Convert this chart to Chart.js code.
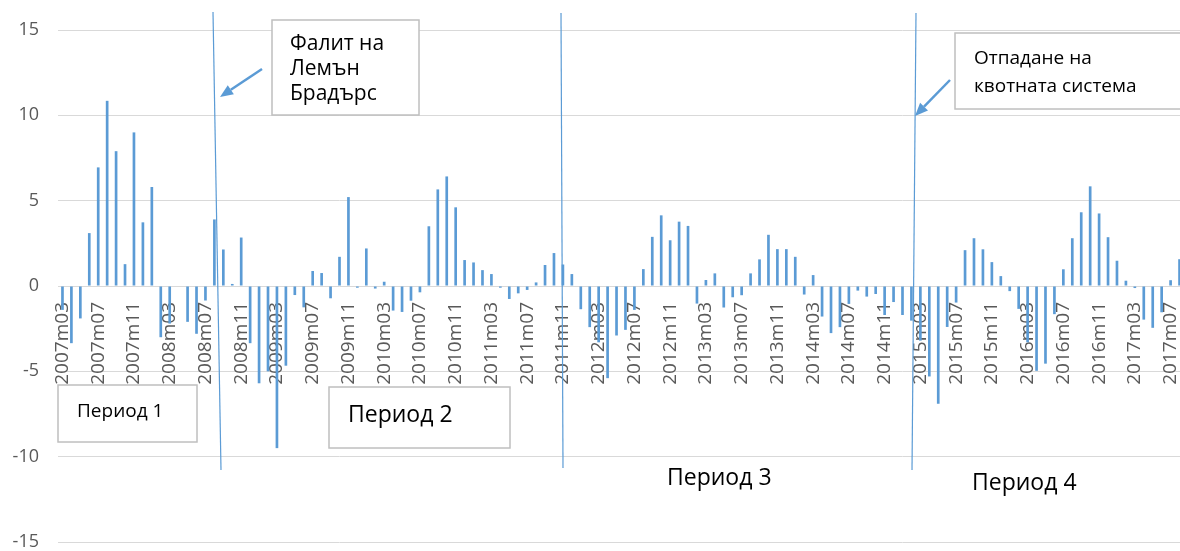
<!DOCTYPE html>
<html>
<head>
<meta charset="utf-8">
<script src="https://cdn.jsdelivr.net/npm/chart.js@4.4.0/dist/chart.umd.min.js"></script>
<style>
  html, body { margin: 0; padding: 0; background: #fff; overflow: hidden; }
  #wrap { width: 1190px; height: 551px; }
</style>
</head>
<body>
<div id="wrap"><canvas id="chart" width="1190" height="551"></canvas></div>
<script>
// monthly categories 2007m03 .. 2017m08
const startYear = 2007, startMonth = 3, monthCount = 126;
const months = [];
for (let i = 0; i < monthCount; i++) {
    const m = startMonth - 1 + i;
    const y = startYear + Math.floor(m / 12);
    const mm = (m % 12) + 1;
    months.push(y + 'm' + (mm < 10 ? '0' + mm : mm));
}

// values, one row per year (m03 .. m02)
const values = [
    -1.4, -3.35, -1.9, 3.1, 6.95, 10.85, 7.9, 1.28, 9.0, 3.73, 5.8, -3.0,
    -2.2, 0, -2.1, -2.8, -0.85, 3.9, 2.14, 0.12, 2.84, -3.35, -5.7, -5.0,
    -9.5, -4.67, -0.53, -1.25, 0.88, 0.76, -0.72, 1.71, 5.21, -0.1, 2.2, -0.15,
    0.25, -1.44, -1.52, -0.86, -0.37, 3.5, 5.66, 6.42, 4.61, 1.52, 1.38, 0.93,
    0.7, -0.1, -0.76, -0.43, -0.23, 0.21, 1.23, 1.93, 1.26, 0.7, -1.36, -2.41,
    -3.3, -5.4, -2.9, -2.57, -1.4, 0.99, 2.88, 4.14, 2.68, 3.77, 3.52, -1.03,
    0.35, 0.74, -1.26, -0.66, -0.54, 0.74, 1.56, 3.0, 2.16, 2.16, 1.71, -0.5,
    0.64, -1.79, -2.76, -2.41, -1.05, -0.27, -0.62, -0.47, -1.7, -0.94, -1.7, -2.03,
    -3.2, -5.3, -6.9, -2.4, -0.97, 2.1, 2.8, 2.15, 1.4, 0.58, -0.3, -1.34,
    -3.3, -4.97, -4.55, -1.65, 0.98, 2.8, 4.32, 5.84, 4.25, 2.86, 1.48, 0.31,
    -0.12, -1.97, -2.45, -1.54, 0.34, 1.57
];

const yTicks = [-15, -10, -5, 0, 5, 10, 15];
const labelEvery = 4;

const blue = '#5b9bd5';
const font = 'Open Sans';

// text boxes, event lines and arrows drawn over the chart
const notes = {
    id: 'notes',
    afterDraw(chart) {
        const c = chart.ctx;
        c.save();

        function box(x, y, w, h) {
            c.fillStyle = '#fff';
            c.fillRect(x, y, w, h);
            c.strokeStyle = '#bfbfbf';
            c.lineWidth = 1.5;
            c.strokeRect(x, y, w, h);
        }
        function text(str, x, y, size) {
            c.fillStyle = '#000';
            c.font = size + 'px "' + font + '"';
            c.textAlign = 'left';
            c.textBaseline = 'alphabetic';
            c.fillText(str, x, y);
        }
        function line(x1, y1, x2, y2) {
            c.strokeStyle = blue;
            c.lineWidth = 1.2;
            c.beginPath();
            c.moveTo(x1, y1);
            c.lineTo(x2, y2);
            c.stroke();
        }
        function arrow(x1, y1, x2, y2) {
            const a = Math.atan2(y2 - y1, x2 - x1);
            const len = 13, half = 5.5;
            const bx = x2 - len * Math.cos(a), by = y2 - len * Math.sin(a);
            c.strokeStyle = blue;
            c.lineWidth = 2.5;
            c.beginPath();
            c.moveTo(x1, y1);
            c.lineTo(bx, by);
            c.stroke();
            c.fillStyle = blue;
            c.beginPath();
            c.moveTo(x2, y2);
            c.lineTo(bx + half * Math.sin(a), by - half * Math.cos(a));
            c.lineTo(bx - half * Math.sin(a), by + half * Math.cos(a));
            c.closePath();
            c.fill();
        }

        // event lines
        line(213, 12, 221, 470);
        line(561, 13, 563, 468);
        line(916, 13, 912, 470);

        // callouts
        box(272, 20, 147, 95);
        text('Фалит на', 290, 50, 21);
        text('Лемън', 290, 75, 21);
        text('Брадърс', 290, 100, 21);
        arrow(262, 69, 220, 97);

        box(955, 33, 260, 76);
        text('Отпадане на', 974, 64, 19);
        text('квотната система', 974, 92, 19);
        arrow(950, 80, 915, 116);

        // period labels
        box(58, 385, 139, 57);
        text('Период 1', 77, 417, 19);
        box(329, 387, 181, 61);
        text('Период 2', 348, 422, 23);
        text('Период 3', 667, 485, 23);
        text('Период 4', 972, 490, 23);

        c.restore();
    }
};

new Chart(document.getElementById('chart'), {
    type: 'bar',
    data: {
        labels: months,
        datasets: [{
            data: values,
            backgroundColor: blue,
            borderWidth: 0,
            barPercentage: 0.3,
            categoryPercentage: 1
        }]
    },
    options: {
        responsive: false,
        animation: false,
        layout: { padding: { top: 30, bottom: 9, left: 0, right: 6 } },
        plugins: { legend: { display: false }, tooltip: { enabled: false } },
        scales: {
            x: {
                position: { y: 0 },
                grid: { display: false, drawTicks: false },
                border: { display: false },
                ticks: {
                    autoSkip: false,
                    minRotation: 90,
                    maxRotation: 90,
                    padding: 16,
                    color: '#595959',
                    font: { family: font, size: 19 },
                    callback: function (v, i) {
                        return i % labelEvery === 0 ? this.getLabelForValue(v) : '';
                    }
                },
                afterFit: s => { s.paddingLeft = 0; s.paddingRight = 0; }
            },
            y: {
                min: yTicks[0],
                max: yTicks[yTicks.length - 1],
                afterBuildTicks: s => { s.ticks = yTicks.map(v => ({ value: v })); },
                grid: { color: '#d9d9d9', lineWidth: 1, drawTicks: false },
                border: { display: false },
                ticks: {
                    padding: 19,
                    color: '#595959',
                    font: { family: font, size: 18 }
                },
                afterFit: s => { s.width = 58; s.paddingTop = 0; s.paddingBottom = 0; }
            }
        }
    },
    plugins: [notes]
});
</script>
</body>
</html>
